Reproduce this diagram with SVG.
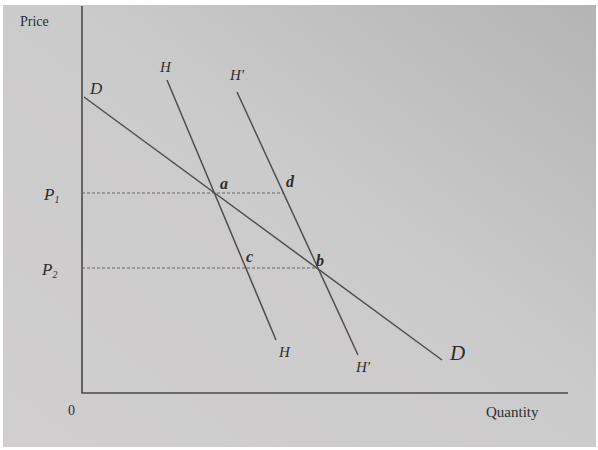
<svg xmlns="http://www.w3.org/2000/svg" width="598" height="450" viewBox="0 0 598 450">
<defs>
<linearGradient id="bg" x1="0" y1="1" x2="1" y2="0">
<stop offset="0" stop-color="#d0cecf"/>
<stop offset="0.55" stop-color="#cccbcb"/>
<stop offset="1" stop-color="#b5b4b4"/>
</linearGradient>
<style>
.ax{stroke:#4a4a4a;stroke-width:1.6;fill:none}
.cv{stroke:#4e4e4e;stroke-width:1.5;fill:none}
.dash{stroke:#666;stroke-width:1.1;stroke-dasharray:3 2;fill:none}
.lb{font-family:"Liberation Serif",serif;font-style:italic;fill:#2e2e2e}
.tx{font-family:"Liberation Serif",serif;fill:#2e2e2e}
</style>
</defs>
<rect width="598" height="450" fill="#ffffff"/>
<rect x="3" y="5" width="593" height="442" fill="url(#bg)"/>
<g id="axes">
<path class="ax" d="M82,6 V393 H568"/>
<text class="tx" x="20" y="26" font-size="14">Price</text>
<text class="tx" x="68" y="415" font-size="14">0</text>
<text class="tx" x="486" y="417" font-size="15">Quantity</text>
</g>
<g id="connectors">
<path class="dash" d="M82,193 H284"/>
<path class="dash" d="M82,268 H317"/>
</g>
<g id="D">
<path class="cv" d="M84,97 L442,360"/>
<text class="lb" x="90" y="94" font-size="17">D</text>
<text class="lb" x="450" y="360" font-size="21">D</text>
</g>
<g id="H">
<path class="cv" d="M167,80 L276,340"/>
<text class="lb" x="160" y="72" font-size="15">H</text>
<text class="lb" x="279" y="357" font-size="15">H</text>
</g>
<g id="Hp">
<path class="cv" d="M237,92 L358,355"/>
<text class="lb" x="230" y="80" font-size="15">H'</text>
<text class="lb" x="356" y="372" font-size="15">H'</text>
</g>
<g id="P1"><text class="lb" x="44" y="200" font-size="17">P<tspan font-size="10" dy="3">1</tspan></text></g>
<g id="P2"><text class="lb" x="42" y="275" font-size="17">P<tspan font-size="10" dy="3">2</tspan></text></g>
<g id="a"><text class="lb" x="220" y="189" font-size="16" font-weight="bold">a</text></g>
<g id="d"><text class="lb" x="286" y="187" font-size="16" font-weight="bold">d</text></g>
<g id="c"><text class="lb" x="246" y="262" font-size="16" font-weight="bold">c</text></g>
<g id="b"><text class="lb" x="316" y="266" font-size="16" font-weight="bold">b</text></g>
</svg>
